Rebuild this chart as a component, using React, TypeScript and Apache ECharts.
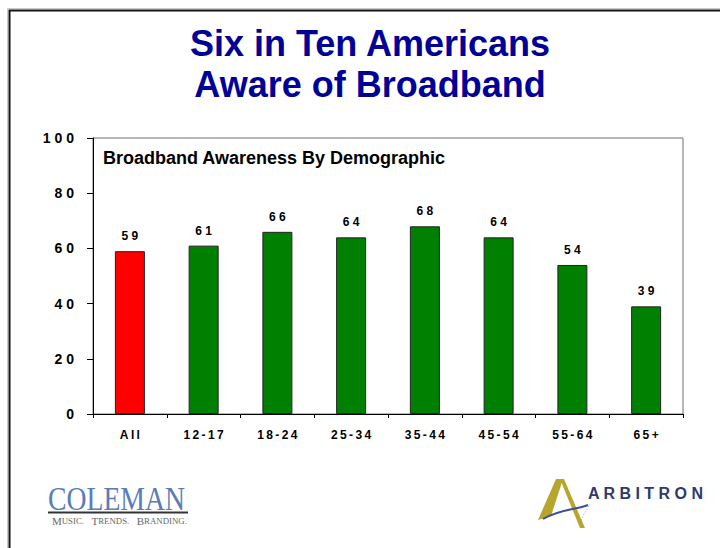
import React, { useEffect, useRef } from "react";
import * as echarts from "echarts";

const categories = ["All", "12-17", "18-24", "25-34", "35-44", "45-54", "55-64", "65+"];
const awareness = [59, 61, 66, 64, 68, 64, 54, 39];
const barColors = ["#ff0000", "#008000", "#008000", "#008000", "#008000", "#008000", "#008000", "#008000"];
const titleLines = ["Six in Ten Americans", "Aware of Broadband"];
const chartSubtitle = "Broadband Awareness By Demographic";

const thin = (s: string) => s.split("").join("\u2009");
const wide = (s: string) => s.split("").join(" ");

export default function App() {
  const ref = useRef<HTMLDivElement>(null);
  useEffect(() => {
    if (!ref.current) return;
    const chart = echarts.init(ref.current, null, { renderer: "svg" });
    chart.setOption({
      animation: false,
      backgroundColor: "#ffffff",
      textStyle: { fontFamily: "Liberation Sans, Arial, sans-serif" },
      grid: {
        left: 93,
        right: 37,
        top: 138,
        bottom: 134,
        show: true,
        borderColor: "#707070",
        borderWidth: 1,
        backgroundColor: "transparent",
      },
      xAxis: {
        type: "category",
        data: categories,
        axisLine: { lineStyle: { color: "#000", width: 1 } },
        axisTick: { show: true, length: 4, lineStyle: { color: "#000" } },
        axisLabel: {
          color: "#000",
          fontWeight: "bold",
          fontSize: 12,
          margin: 15,
          formatter: (v: string) => thin(v),
        },
      },
      yAxis: {
        type: "value",
        min: 0,
        max: 100,
        interval: 20,
        axisLine: { show: true, lineStyle: { color: "#000", width: 1 } },
        axisTick: { show: true, length: 6, lineStyle: { color: "#000" } },
        splitLine: { show: false },
        axisLabel: {
          color: "#000",
          fontWeight: "bold",
          fontSize: 14,
          margin: 19,
          formatter: (v: number) => wide(String(v)),
        },
      },
      series: [
        {
          type: "bar",
          data: awareness.map((v, i) => ({ value: v, itemStyle: { color: barColors[i] } })),
          barWidth: 30,
          itemStyle: { borderColor: "#222", borderWidth: 1 },
          label: {
            show: true,
            position: "top",
            distance: 9,
            color: "#000",
            fontWeight: "bold",
            fontSize: 12,
            formatter: (p: any) => wide(String(p.value)),
          },
        },
      ],
      graphic: [
        {
          type: "rect",
          shape: { x: 7.5, y: 8.5, width: 800, height: 600 },
          style: { fill: "none", stroke: "#c8c8c8", lineWidth: 1 },
          silent: true,
        },
        {
          type: "rect",
          shape: { x: 9.5, y: 10.5, width: 800, height: 600 },
          style: { fill: "none", stroke: "#111", lineWidth: 2 },
          silent: true,
        },
        {
          type: "text",
          x: 370,
          y: 43,
          style: {
            text: titleLines[0],
            fill: "#000099",
            font: "bold 36px 'Liberation Sans', Arial, sans-serif",
            align: "center",
            verticalAlign: "middle",
          },
        },
        {
          type: "text",
          x: 370,
          y: 84,
          style: {
            text: titleLines[1],
            fill: "#000099",
            font: "bold 36px 'Liberation Sans', Arial, sans-serif",
            align: "center",
            verticalAlign: "middle",
          },
        },
        {
          type: "text",
          x: 103,
          y: 158,
          style: {
            text: chartSubtitle,
            fill: "#000",
            font: "bold 18px 'Liberation Sans', Arial, sans-serif",
            align: "left",
            verticalAlign: "middle",
          },
        },
        {
          type: "text",
          x: 48,
          y: 499,
          scaleX: 0.84,
          style: {
            text: "COLEMAN",
            fill: "#5a7cb8",
            font: "33px 'Liberation Serif', 'DejaVu Serif', serif",
            align: "left",
            verticalAlign: "middle",
          },
        },
        {
          type: "line",
          shape: { x1: 48, y1: 512.5, x2: 188, y2: 512.5 },
          style: { stroke: "#333", lineWidth: 2 },
        },
        {
          type: "text",
          x: 52,
          y: 521,
          style: {
            text: "{b|M}{s|USIC.}   {b|T}{s|RENDS.}   {b|B}{s|RANDING.}",
            fill: "#666",
            font: "10px 'Liberation Serif', serif",
            align: "left",
            verticalAlign: "middle",
            rich: {
              b: { fontSize: 11, fontFamily: "Liberation Serif", fill: "#666" },
              s: { fontSize: 8.8, fontFamily: "Liberation Serif", fill: "#666" },
            },
          },
        },
        {
          type: "polygon",
          shape: { points: [[538, 520], [556, 479], [563, 479], [551, 516]] },
          style: { fill: "#b8a52c" },
        },
        {
          type: "polygon",
          shape: { points: [[560, 479], [564, 479], [585, 528], [580, 528]] },
          style: { fill: "#b8a52c" },
        },
        {
          type: "bezierCurve",
          shape: { x1: 543, y1: 519, x2: 588, y2: 505, cpx1: 560, cpy1: 509, cpx2: 575, cpy2: 510 },
          style: { stroke: "#3b4f9a", lineWidth: 2, fill: "none" },
        },
        {
          type: "polyline",
          shape: { points: [[580, 523], [584, 514], [588, 508], [590, 504]] },
          style: { stroke: "#8a96c6", lineWidth: 1, lineDash: [1, 2] },
        },
        {
          type: "text",
          x: 588,
          y: 493,
          style: {
            text: wide("ARBITRON"),
            fill: "#2e3a6e",
            font: "bold 16px 'Liberation Sans', Arial, sans-serif",
            align: "left",
            verticalAlign: "middle",
          },
        },
      ],
    });
    return () => chart.dispose();
  }, []);
  return (
    <div
      ref={ref}
      style={{ position: "fixed", left: 0, top: 0, width: 720, height: 548 }}
    />
  );
}
